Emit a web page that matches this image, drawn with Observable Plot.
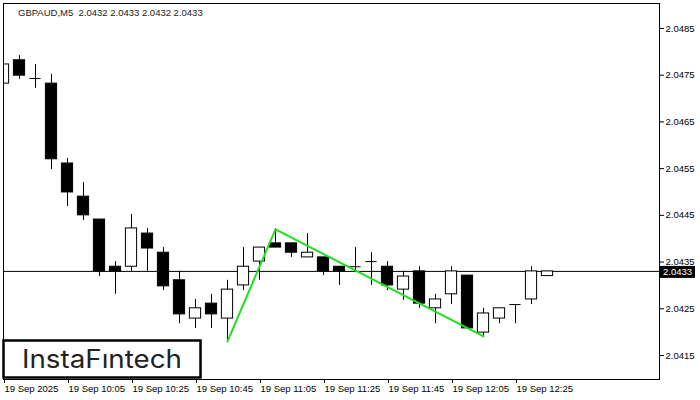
<!DOCTYPE html>
<html><head><meta charset="utf-8">
<script src="https://cdn.jsdelivr.net/npm/d3@7"></script>
<script src="https://cdn.jsdelivr.net/npm/@observablehq/plot@0.6"></script>
<style>body{margin:0;background:#fff;overflow:hidden}</style>
</head><body><div id="chart"></div>
<script>
const titleText = "GBPAUD,M5  2.0432 2.0433 2.0432 2.0433";
const dateDay = "2025-09-19";
const times = ["09:45","09:50","09:55","10:00","10:05","10:10","10:15","10:20","10:25","10:30","10:35","10:40","10:45","10:50","10:55","11:00","11:05","11:10","11:15","11:20","11:25","11:30","11:35","11:40","11:45","11:50","11:55","12:00","12:05","12:10","12:15","12:20","12:25","12:30","12:35"];
const opens  = [2.04732,2.04782,2.04743,2.04732,2.04561,2.04490,2.04441,2.04340,2.04340,2.04411,2.04370,2.04311,2.04229,2.04261,2.04229,2.04300,2.04351,2.04390,2.04390,2.04360,2.04360,2.04340,2.04340,2.04351,2.04340,2.04291,2.04330,2.04251,2.04281,2.04321,2.04199,2.04229,2.04259,2.04270,2.04320];
const highs  = [2.04782,2.04792,2.04773,2.04752,2.04572,2.04520,2.04441,2.04351,2.04452,2.04422,2.04381,2.04330,2.04270,2.04281,2.04311,2.04381,2.04381,2.04422,2.04390,2.04411,2.04360,2.04340,2.04381,2.04370,2.04351,2.04330,2.04340,2.04281,2.04340,2.04321,2.04251,2.04251,2.04259,2.04340,2.04330];
const lows   = [2.04722,2.04741,2.04722,2.04548,2.04469,2.04439,2.04319,2.04281,2.04330,2.04330,2.04289,2.04218,2.04208,2.04208,2.04182,2.04289,2.04311,2.04381,2.04360,2.04360,2.04321,2.04300,2.04330,2.04300,2.04289,2.04268,2.04251,2.04218,2.04259,2.04208,2.04191,2.04218,2.04218,2.04259,2.04320];
const closes = [2.04773,2.04749,2.04743,2.04570,2.04499,2.04450,2.04330,2.04330,2.04422,2.04379,2.04298,2.04238,2.04251,2.04238,2.04291,2.04340,2.04381,2.04381,2.04370,2.04370,2.04330,2.04330,2.04340,2.04351,2.04300,2.04319,2.04261,2.04270,2.04330,2.04208,2.04240,2.04251,2.04259,2.04330,2.04330];
const patternTimes  = ["10:55","11:10","12:15"];
const patternPrices = [2.04180,2.04420,2.04191];
const lastPrice = 2.0433;
const yTicks = [2.0415,2.0425,2.0435,2.0445,2.0455,2.0465,2.0475,2.0485];
const xTickTimes = ["09:45","10:05","10:25","10:45","11:05","11:25","11:45","12:05","12:25"];
const xDomainTimes = ["09:45","13:10"];
const yDomain = [2.040986, 2.049035];
const logoText = "InstaFıntech";

const toDate = t => new Date(`${dateDay}T${t}:00Z`);
const data = times.map((t,i) => ({t: toDate(t), open: opens[i], high: highs[i], low: lows[i], close: closes[i]}));
const pattern = patternTimes.map((t,i) => ({t: toDate(t), p: patternPrices[i]}));
const xTicks = xTickTimes.map(toDate);
const half = 1.75 * 60 * 1000;
const bodies = data.filter(d => d.open !== d.close);
const dojis = data.filter(d => d.open === d.close);
const fmtTime = d3.utcFormat("%H:%M");
const fmtDay = d3.utcFormat("%-d %b");
const fmtYear = d3.utcFormat("%-d %b %Y");
const xFormat = (d, i) => i === 0 ? fmtYear(d) : `${fmtDay(d)} ${fmtTime(d)}`;
const FONT = "'Liberation Sans', Arial, sans-serif";

const chart = Plot.plot({
  width: 700, height: 400,
  marginLeft: 3, marginRight: 41, marginTop: 3, marginBottom: 21,
  style: {fontFamily: FONT, fontSize: "9.5px", color: "#000", background: "#fff"},
  x: {type: "utc", domain: xDomainTimes.map(toDate), label: null},
  y: {domain: yDomain, label: null},
  marks: [
    Plot.ruleY([lastPrice], {stroke: "black", strokeWidth: 1}),
    Plot.ruleX(data, {x: "t", y1: "low", y2: "high", stroke: "black", clip: true}),
    Plot.rect(bodies, {x1: d => new Date(+d.t - half), x2: d => new Date(+d.t + half), y1: "open", y2: "close",
      fill: d => d.close > d.open ? "white" : "black", stroke: "black", strokeWidth: 1, clip: true}),
    Plot.ruleY(dojis, {y: "open", x1: d => new Date(+d.t - half), x2: d => new Date(+d.t + half), stroke: "black", clip: true}),
    Plot.line(pattern, {x: "t", y: "p", stroke: "#1ee01e", strokeWidth: 2}),
    Plot.frame({stroke: "black"}),
    Plot.axisX({ticks: xTicks, tickFormat: xFormat, tickSize: 4, tickPadding: 2, textAnchor: "start", dx: 1, label: null}),
    Plot.axisY({anchor: "right", ticks: yTicks, tickFormat: d3.format(".4f"), tickSize: 4, tickPadding: 2, label: null})
  ]
});
document.getElementById("chart").appendChild(chart);

const svg = d3.select(chart);
const yp = chart.scale("y").apply(lastPrice);
const tag = svg.append("g");
tag.append("rect").attr("x", 660).attr("y", yp - 5).attr("width", 35).attr("height", 12).attr("fill", "black");
tag.append("text").attr("x", 663).attr("y", yp + 4.5).attr("fill", "white").attr("text-anchor", "start")
  .style("font-family", FONT).style("font-size", "9.5px").text(lastPrice.toFixed(4));

svg.append("text").attr("x", 18).attr("y", 16).attr("fill", "#1a1a1a").attr("text-anchor", "start")
  .style("font-family", FONT).style("font-size", "9.5px").style("white-space", "pre")
  .text(titleText);

const logo = svg.append("g");
logo.append("rect").attr("x", 3.5).attr("y", 340.5).attr("width", 197).attr("height", 37).attr("fill", "white").attr("stroke", "black").attr("stroke-width", 2.5);
logo.append("text").attr("x", 102).attr("y", 368).attr("text-anchor", "middle").attr("fill", "#222")
  .attr("textLength", 160).attr("lengthAdjust", "spacingAndGlyphs")
  .style("font-family", "Inter, Lato, sans-serif").style("font-size", "25px").style("font-weight", 400)
  .text(logoText);
</script>
</body></html>
